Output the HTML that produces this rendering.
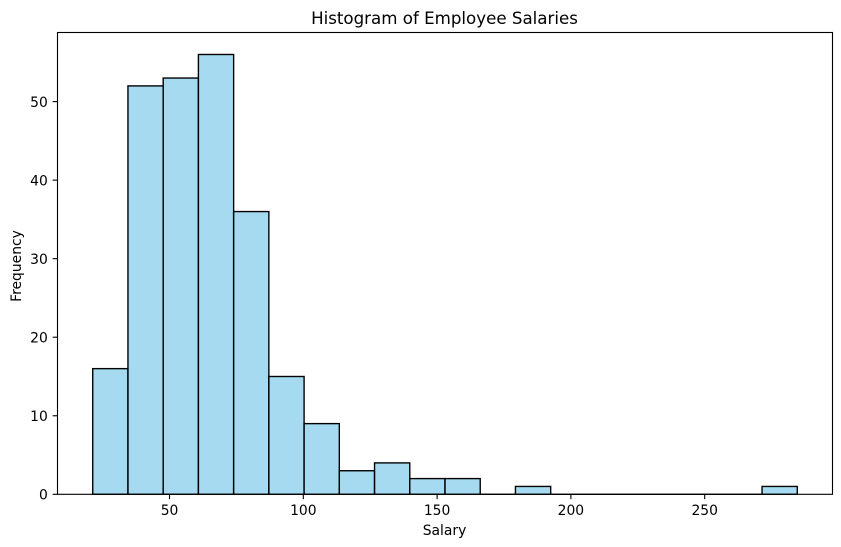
<!DOCTYPE html>
<html lang="en">
<head>
<meta charset="utf-8">
<title>Histogram of Employee Salaries</title>
<style>
html,body{margin:0;padding:0;background:#fff;width:841px;height:547px;overflow:hidden}
svg{display:block}
text{font-family:"DejaVu Sans","Liberation Sans",sans-serif;fill:#000}
</style>
</head>
<body>
<svg id="chart" xmlns="http://www.w3.org/2000/svg" width="841" height="547" viewBox="0 0 841 547">
  <rect x="0" y="0" width="841" height="547" fill="#fff"/>
  <g id="bars"></g>
  <g id="xticks"></g>
  <g id="yticks"></g>
  <rect x="57.5" y="32.5" width="775" height="461.8" fill="none" stroke="#000" stroke-width="1.11"/>
  <text x="444.5" y="24" text-anchor="middle" font-size="16.67">Histogram of Employee Salaries</text>
  <text x="444.5" y="535" text-anchor="middle" font-size="13.89">Salary</text>
  <text transform="translate(21,266) rotate(-90)" text-anchor="middle" font-size="13.89">Frequency</text>
</svg>
<script>
const binCounts = [16, 52, 53, 56, 36, 15, 9, 3, 4, 2, 2, 0, 1, 0, 0, 0, 0, 0, 0, 1];
const salaryMin = 21.3;
const salaryMax = 284.6;
const xTickValues = [50, 100, 150, 200, 250];
const yTickValues = [0, 10, 20, 30, 40, 50];

const plotLeft = 57.5, plotRight = 832.5, plotTop = 32.5, plotBottom = 494.3;
const NS = 'http://www.w3.org/2000/svg';
const span = salaryMax - salaryMin;
const xDomainMin = salaryMin - span * 0.05;
const xDomainMax = salaryMax + span * 0.05;
const yDomainMax = Math.max.apply(null, binCounts) * 1.05;

function xScale(v) {
  return plotLeft + (v - xDomainMin) / (xDomainMax - xDomainMin) * (plotRight - plotLeft);
}
function yScale(v) {
  return plotBottom - v / yDomainMax * (plotBottom - plotTop);
}
function make(tag, attrs) {
  const el = document.createElementNS(NS, tag);
  Object.keys(attrs).forEach(function (k) { el.setAttribute(k, attrs[k]); });
  return el;
}

const barsGroup = document.getElementById('bars');
const binWidth = span / binCounts.length;
binCounts.forEach(function (count, i) {
  if (count === 0) {
    const flat = make('line', {
      x1: xScale(salaryMin + i * binWidth), x2: xScale(salaryMin + (i + 1) * binWidth),
      y1: plotBottom, y2: plotBottom, stroke: '#000', 'stroke-width': 1.39
    });
    
    
    barsGroup.appendChild(flat);
    return;
  }
  const x0 = xScale(salaryMin + i * binWidth);
  const x1 = xScale(salaryMin + (i + 1) * binWidth);
  const bar = make('rect', {
    x: x0, y: yScale(count), width: x1 - x0, height: plotBottom - yScale(count),
    fill: 'rgb(135,206,235)', 'fill-opacity': 0.75, stroke: '#000', 'stroke-width': 1.39,
    'stroke-linejoin': 'miter'
  });
  
  
  barsGroup.appendChild(bar);
});

const xTicksGroup = document.getElementById('xticks');
xTickValues.forEach(function (v) {
  const px = xScale(v);
  const mark = make('line', { x1: px, x2: px, y1: plotBottom, y2: plotBottom + 4.86, stroke: '#000', 'stroke-width': 1.11 });
  
  
  xTicksGroup.appendChild(mark);
  const label = make('text', { x: px, y: plotBottom + 20.5, 'text-anchor': 'middle', 'font-size': 13.89 });
  
  
  label.textContent = v;
  xTicksGroup.appendChild(label);
});

const yTicksGroup = document.getElementById('yticks');
yTickValues.forEach(function (v) {
  const py = yScale(v);
  const mark = make('line', { x1: plotLeft - 4.86, x2: plotLeft, y1: py, y2: py, stroke: '#000', 'stroke-width': 1.11 });
  
  
  yTicksGroup.appendChild(mark);
  const label = make('text', { x: plotLeft - 9.7, y: py + 5.2, 'text-anchor': 'end', 'font-size': 13.89 });
  
  
  label.textContent = v;
  yTicksGroup.appendChild(label);
});
</script>
</body>
</html>
